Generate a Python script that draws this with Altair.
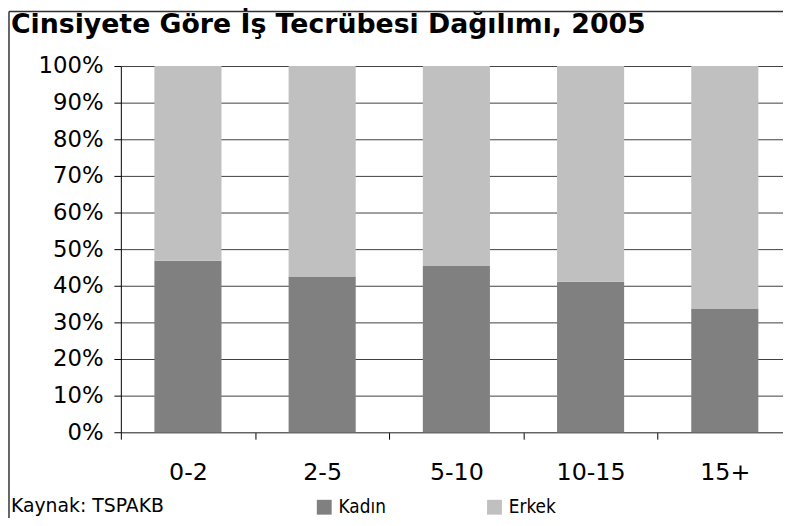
import altair as alt
import pandas as pd

categories = ["0-2", "2-5", "5-10", "10-15", "15+"]
series = ["Kadın", "Erkek"]
kadin = [46.8, 42.5, 45.4, 41.1, 33.8]
erkek = [53.2, 57.5, 54.6, 58.9, 66.2]
y_ticks = [0, 10, 20, 30, 40, 50, 60, 70, 80, 90, 100]
colors = ["#808080", "#C0C0C0"]

title_text = "Cinsiyete Göre İş Tecrübesi Dağılımı, 2005"
source_text = "Kaynak: TSPAKB"

rows = []
for i, c in enumerate(categories):
    rows.append({"cat": c, "series": series[0], "value": kadin[i], "ord": 0})
    rows.append({"cat": c, "series": series[1], "value": erkek[i], "ord": 1})
df = pd.DataFrame(rows)

FONT = "DejaVu Sans"
FONT_C = "DejaVu Sans Condensed"

bars = alt.Chart(df).mark_bar().encode(
    x=alt.X(
        "cat:N",
        sort=categories,
        title=None,
        scale=alt.Scale(paddingInner=0.5, paddingOuter=0.25),
        axis=alt.Axis(
            labelAngle=0,
            labelFont=FONT,
            labelFontSize=24,
            labelColor="black",
            labelPadding=22,
            bandPosition=0,
            tickOffset=-34,
            labelOffset=34,
            tickSize=7,
            tickColor="black",
            domainColor="#606060",
            grid=False,
        ),
    ),
    y=alt.Y(
        "value:Q",
        stack="zero",
        title=None,
        scale=alt.Scale(domain=[0, 100], nice=False),
        axis=alt.Axis(
            values=y_ticks,
            labelExpr="datum.value + '%'",
            labelFont=FONT,
            labelFontSize=23,
            labelColor="black",
            labelPadding=11,
            tickSize=7,
            tickColor="black",
            domainColor="black",
            grid=True,
            gridColor="#404040",
            gridWidth=1,
        ),
    ),
    color=alt.Color(
        "series:N",
        sort=series,
        scale=alt.Scale(domain=series, range=colors),
        legend=alt.Legend(
            title=None,
            orient="none",
            legendX=196,
            legendY=436,
            direction="horizontal",
            symbolType="square",
            symbolSize=225,
            symbolStrokeWidth=0,
            labelFont=FONT_C,
            labelFontSize=19,
            labelColor="black",
            labelOffset=5,
            columnPadding=100,
        ),
    ),
    order=alt.Order("ord:Q", sort="ascending"),
)

one = alt.Data(values=[{}])

title_mark = alt.Chart(one).mark_text(
    text=title_text, align="left", baseline="alphabetic",
    font=FONT, fontSize=27, fontWeight="bold", color="black",
).encode(x=alt.value(-111), y=alt.value(-33))

source_mark = alt.Chart(one).mark_text(
    text=source_text, align="left", baseline="alphabetic",
    font=FONT, fontSize=19, color="black",
).encode(x=alt.value(-111), y=alt.value(451))

frame_left = alt.Chart(one).mark_rule(color="#333333", strokeWidth=1.5).encode(
    x=alt.value(-113), y=alt.value(-55), y2=alt.value(470)
)
frame_top = alt.Chart(one).mark_rule(color="#333333", strokeWidth=1.5).encode(
    x=alt.value(-113), x2=alt.value(690), y=alt.value(-55)
)

chart = alt.layer(bars, title_mark, source_mark, frame_left, frame_top).properties(
    width=678,
    height=370,
    autosize=alt.AutoSizeParams(type="none"),
    padding={"left": 114, "top": 56, "right": -9, "bottom": 84},
    background="white",
).configure_view(strokeWidth=0)

chart.save("out.html", embed_options={"renderer": "svg", "actions": False})
